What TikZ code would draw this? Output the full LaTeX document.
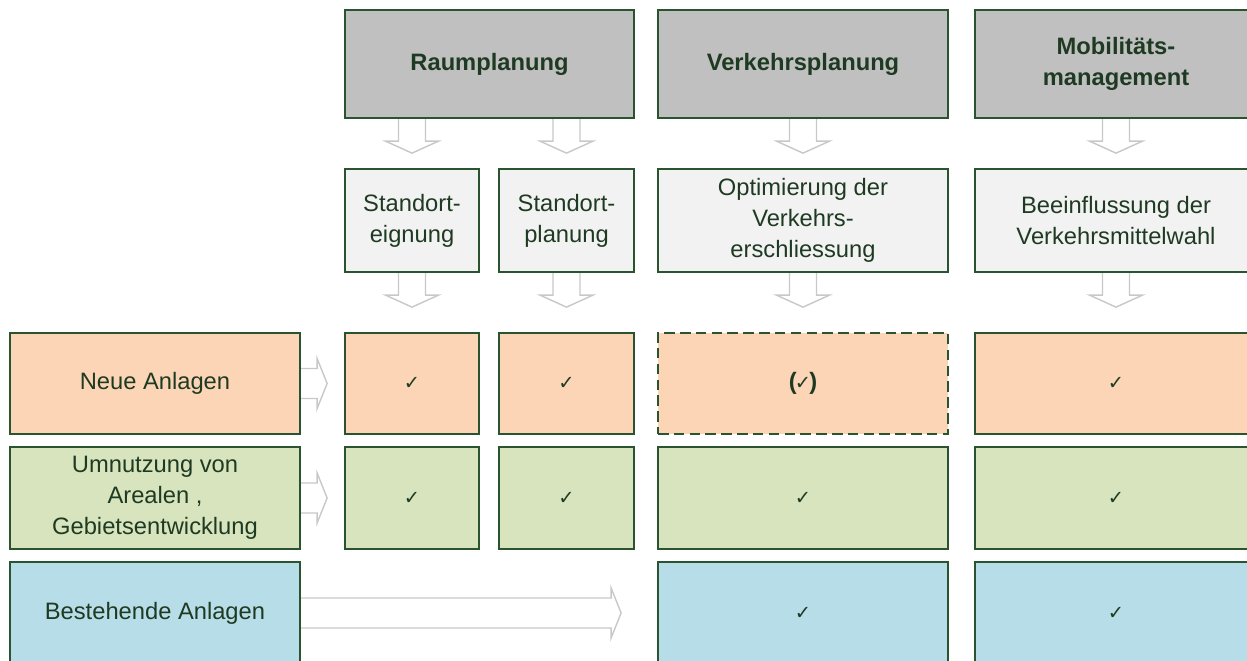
\documentclass[tikz,border=0pt]{standalone}
\usepackage{fontspec}
\setmainfont{Liberation Sans}
\newfontfamily\checkfont{DejaVu Sans}
\usepackage{tikz}
\usetikzlibrary{calc, backgrounds}
\usepackage{xcolor}
\definecolor{headgray}{HTML}{C0C0C0}
\definecolor{taskgray}{HTML}{F2F2F2}
\definecolor{neuorange}{HTML}{FBD5B5}
\definecolor{umngreen}{HTML}{D7E4BD}
\definecolor{bestblue}{HTML}{B7DDE8}
\definecolor{boxgreen}{HTML}{2A5430}
\definecolor{textgreen}{HTML}{1F3A22}
\definecolor{arrowgray}{HTML}{C8C8C8}

\tikzset{
  box/.style={draw=boxgreen, line width=1.3pt, inner sep=2pt, align=center, text=textgreen,
              font=\fontsize{13.5}{17.5}\selectfont},
  head/.style={box, fill=headgray, font=\fontsize{13.5}{17.5}\selectfont\bfseries, minimum height=2.16cm},
  task/.style={box, fill=taskgray, minimum height=2.06cm},
  neu/.style={box, fill=neuorange, minimum height=2.02cm},
  umn/.style={box, fill=umngreen, minimum height=2.04cm},
  best/.style={box, fill=bestblue, minimum height=2.04cm},
  tick/.style={font=\checkfont\fontsize{11}{13}\selectfont},
  fatarrow/.style={draw=arrowgray, fill=white, line width=0.8pt}
}

% block arrows: from the bottom of #1, in the column of #2
\newcommand{\fatdown}[2]{%
  \draw[fatarrow] ($(#2.north |- #1.south)+(-13.5,-4)$) -- ++(0,26) -- ++(-13,0) -- ++(26.5,12)
     -- ++(26.5,-12) -- ++(-13,0) -- ++(0,-26);}
% block arrows: to the right of #1, shaft length #2
\newcommand{\fatright}[2]{%
  \draw[fatarrow] ($(#1.east)+(-4,-15)$) -- ++(#2+4,0) -- ++(0,-10) -- ++(10,25)
     -- ++(-10,25) -- ++(0,-10) -- ++(-#2-4,0);}

\begin{document}
\begin{tikzpicture}[x=0.02cm, y=-0.02cm]
    \useasboundingbox (0,0) rectangle (1247,660);

    % fields
    \node[head, minimum width=5.78cm] (rp) at (489.5,64) {Raumplanung};
    \node[head, minimum width=5.80cm] (vp) at (803,64)   {Verkehrsplanung};
    \node[head, minimum width=5.64cm] (mm) at (1116,64)  {Mobilitäts-\\management};

    % tasks
    \node[task, minimum width=2.68cm] (se) at (412,220.5)   {Standort-\\eignung};
    \node[task, minimum width=2.70cm] (sp) at (566.5,220.5) {Standort-\\planung};
    \node[task, minimum width=5.80cm] (ov) at (803,220.5)   {Optimierung der\\Verkehrs-\\erschliessung};
    \node[task, minimum width=5.64cm] (bv) at (1116,220.5)  {Beeinflussung der\\Verkehrsmittelwahl};

    % new sites
    \node[neu, minimum width=5.80cm] (na) at (155,383.5)   {Neue Anlagen};
    \node[neu, minimum width=2.68cm] (n1) at (412,383.5)   {};
    \node[neu, minimum width=2.70cm] (n2) at (566.5,383.5) {};
    \node[neu, minimum width=5.80cm, line width=1.6pt, dash pattern=on 6pt off 3pt] (n3) at (803,383.5) {};
    \node[neu, minimum width=5.64cm] (n4) at (1116,383.5)  {};

    % conversion
    \node[umn, minimum width=5.80cm] (ua) at (155,498)   {Umnutzung von\\Arealen ,\\Gebietsentwicklung};
    \node[umn, minimum width=2.68cm] (u1) at (412,498)   {};
    \node[umn, minimum width=2.70cm] (u2) at (566.5,498) {};
    \node[umn, minimum width=5.80cm] (u3) at (803,498)   {};
    \node[umn, minimum width=5.64cm] (u4) at (1116,498)  {};

    % existing sites
    \node[best, minimum width=5.80cm] (ba) at (155,613)  {Bestehende Anlagen};
    \node[best, minimum width=5.80cm] (b3) at (803,613)  {};
    \node[best, minimum width=5.64cm] (b4) at (1116,613) {};

    % ticks
    \foreach \c in {n1, n2, n4, u1, u2, u3, u4, b3, b4}
        \node[tick, text=textgreen] at (\c) {✓};
    \node[tick, text=textgreen, inner sep=0pt] at (n3)
        {{\rmfamily\bfseries\fontsize{13.5}{15}\selectfont(}\kern-1pt✓\kern-1pt{\rmfamily\bfseries\fontsize{13.5}{15}\selectfont)}};

    \begin{scope}[on background layer]
       \fatdown{rp}{se}
       \fatdown{rp}{sp}
       \fatdown{vp}{ov}
       \fatdown{mm}{bv}
       \fatdown{se}{n1}
       \fatdown{sp}{n2}
       \fatdown{ov}{n3}
       \fatdown{bv}{n4}
       \fatright{na}{16}
       \fatright{ua}{16}
       \fatright{ba}{310}
    \end{scope}
\end{tikzpicture}
\end{document}
